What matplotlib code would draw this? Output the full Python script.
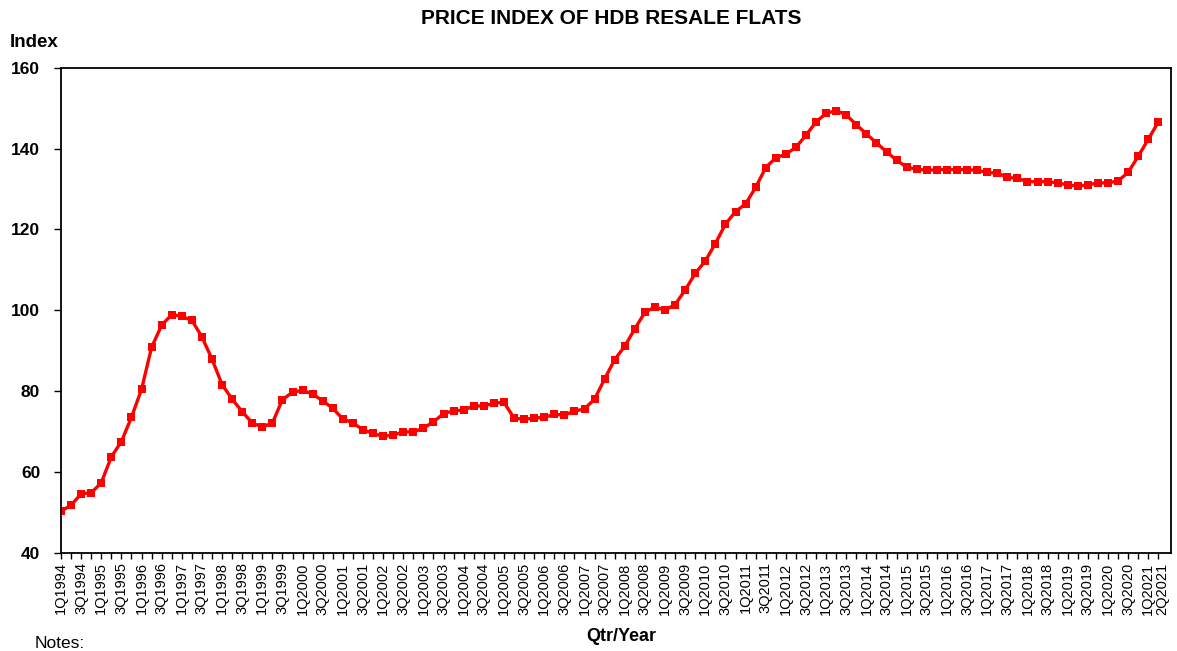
import numpy as np
import matplotlib.pyplot as plt
from matplotlib.transforms import ScaledTranslation

plt.rcParams['font.family'] = ['Liberation Sans', 'DejaVu Sans']

# quarters 1Q1994 .. 2Q2021
years = list(range(1994, 2022))
quarters = [f"{q}Q{y}" for y in years for q in range(1, 5)][:110]

# resale price index
index_values = [
    50.3, 51.7, 54.6, 54.8, 57.3, 63.7, 67.5, 73.5, 80.4, 90.8,
    96.3, 98.9, 98.5, 97.5, 93.4, 87.9, 81.6, 78.0, 74.9, 72.1,
    71.1, 72.1, 77.9, 79.7, 80.2, 79.2, 77.6, 75.7, 73.1, 72.1,
    70.4, 69.5, 68.8, 69.1, 69.9, 69.9, 70.8, 72.4, 74.4, 75.1,
    75.3, 76.3, 76.3, 77.0, 77.2, 73.3, 73.0, 73.3, 73.5, 74.2,
    74.1, 75.0, 75.6, 78.0, 83.0, 87.8, 91.1, 95.4, 99.5, 100.8,
    100.0, 101.4, 105.0, 109.1, 112.2, 116.5, 121.3, 124.4, 126.3, 130.4,
    135.3, 137.7, 138.6, 140.3, 143.3, 146.6, 148.7, 149.4, 148.3, 145.9,
    143.6, 141.4, 139.2, 137.1, 135.4, 134.9, 134.6, 134.8, 134.8, 134.8,
    134.8, 134.6, 134.1, 133.9, 132.9, 132.6, 131.8, 131.8, 131.8, 131.5,
    131.0, 130.7, 131.0, 131.5, 131.5, 132.0, 134.1, 138.1, 142.3, 146.6,
]

# every 2nd quarter gets a label, plus the last one
label_idx = list(range(0, len(quarters), 2)) + [len(quarters) - 1]

fig = plt.figure(figsize=(11.77, 6.51), dpi=100)
ax = fig.add_axes([0.0518, 0.151, 0.9435, 0.745])

x = np.arange(len(index_values))
ax.plot(x, index_values, color='#ff0000', lw=2.4, marker='s', markersize=5.5,
        markeredgewidth=0, solid_joinstyle='round')

ax.set_xlim(0, 110.3)
ax.set_ylim(40, 160)
ax.set_yticks(range(40, 161, 20))
ax.tick_params(axis='y', labelsize=12.5, direction='out', length=5, width=1, pad=10)
for t in ax.get_yticklabels():
    t.set_fontweight('bold')

ax.set_xticks(x, minor=True)
ax.set_xticks(label_idx)
ax.set_xticklabels([quarters[i] for i in label_idx], rotation=90, fontsize=10.5)
ax.tick_params(axis='x', which='both', direction='out', length=4, width=1, pad=3)
# nudge the last label so it clears 1Q2021
last = ax.get_xticklabels()[-1]
last.set_transform(last.get_transform() + ScaledTranslation(4 / 100, 0, fig.dpi_scale_trans))

for s in ax.spines.values():
    s.set_linewidth(1.3)

fig.text(0.5195, 0.972, 'PRICE INDEX OF HDB RESALE FLATS', ha='center', va='center',
         fontsize=15, fontweight='bold')
fig.text(0.008, 0.935, 'Index', ha='left', va='center', fontsize=13.5, fontweight='bold')
fig.text(0.528, 0.023, 'Qtr/Year', ha='center', va='center', fontsize=13, fontweight='bold')
fig.text(0.029, 0.012, 'Notes:', ha='left', va='center', fontsize=12.5)

fig.savefig('out.png', dpi=100)
